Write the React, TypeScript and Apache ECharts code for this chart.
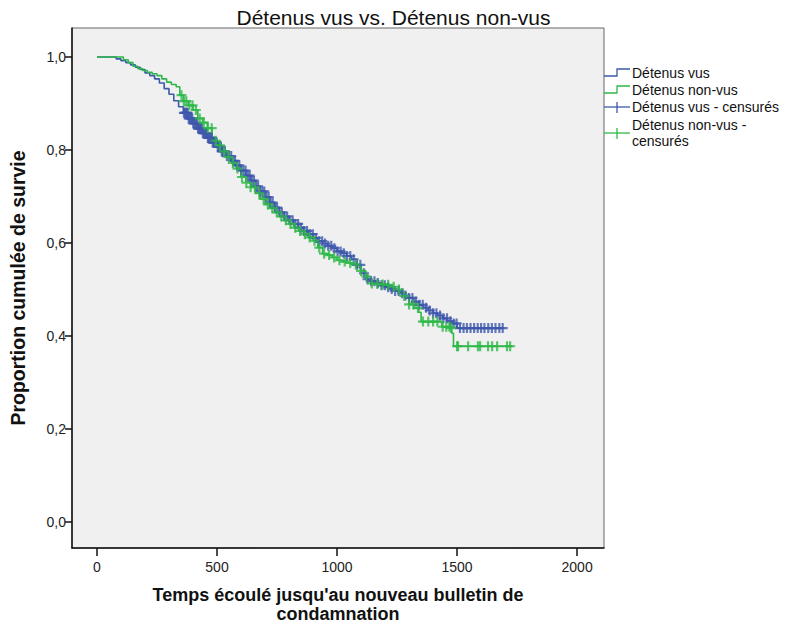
import React, { useEffect, useRef } from "react";
import * as echarts from "echarts";

const TITLE = "Détenus vus vs. Détenus non-vus";
const X_NAME = "Temps écoulé jusqu'au nouveau bulletin de\ncondamnation";
const Y_NAME = "Proportion cumulée de survie";
const X_TICKS = [0, 500, 1000, 1500, 2000];
const Y_TICKS = [0, 0.2, 0.4, 0.6, 0.8, 1.0];
const LEGEND_NAMES = ["Détenus vus", "Détenus non-vus", "Détenus vus - censurés", "Détenus non-vus -\ncensurés"];

// Kaplan-Meier curve "Détenus vus": [time, survival]
const vusCurve: [number, number][] = [
  [0, 1], [60, 1], [80, 0.996], [100, 0.992], [120, 0.988], [140, 0.983], [160, 0.978], [180, 0.973],
  [200, 0.966], [220, 0.96], [240, 0.953], [260, 0.944], [280, 0.932], [300, 0.92], [320, 0.906],
  [340, 0.893], [360, 0.88], [380, 0.868], [400, 0.857], [420, 0.846], [440, 0.836], [460, 0.826],
  [480, 0.816], [500, 0.807], [520, 0.797], [540, 0.787], [560, 0.777], [580, 0.767], [600, 0.756],
  [620, 0.745], [640, 0.734], [660, 0.722], [680, 0.711], [700, 0.699], [720, 0.687], [740, 0.676],
  [760, 0.666], [780, 0.657], [800, 0.649], [820, 0.641], [840, 0.633], [860, 0.626], [880, 0.619],
  [900, 0.611], [920, 0.604], [940, 0.599], [960, 0.594], [980, 0.589], [1000, 0.582], [1020, 0.578],
  [1040, 0.572], [1060, 0.565], [1080, 0.553], [1100, 0.535], [1120, 0.522], [1140, 0.518],
  [1160, 0.514], [1180, 0.509], [1200, 0.505], [1220, 0.501], [1240, 0.497], [1260, 0.492],
  [1280, 0.487], [1300, 0.482], [1320, 0.474], [1340, 0.467], [1360, 0.461], [1380, 0.455],
  [1400, 0.449], [1420, 0.444], [1440, 0.438], [1460, 0.432], [1480, 0.427], [1500, 0.417], [1692, 0.417],
];

// Kaplan-Meier curve "Détenus non-vus": [time, survival]
const nonVusCurve: [number, number][] = [
  [0, 1], [100, 1], [110, 0.994], [130, 0.988], [150, 0.98], [170, 0.975], [190, 0.971], [210, 0.967],
  [230, 0.964], [250, 0.96], [270, 0.953], [290, 0.946], [310, 0.941], [330, 0.936], [345, 0.918],
  [360, 0.905], [380, 0.896], [400, 0.886], [420, 0.868], [440, 0.859], [460, 0.847], [480, 0.82],
  [500, 0.81], [520, 0.797], [540, 0.785], [560, 0.772], [580, 0.76], [600, 0.742], [620, 0.73],
  [640, 0.72], [660, 0.707], [680, 0.695], [700, 0.683], [720, 0.675], [740, 0.666], [760, 0.657],
  [780, 0.649], [800, 0.641], [820, 0.633], [840, 0.626], [860, 0.619], [880, 0.612], [900, 0.605],
  [920, 0.59], [940, 0.577], [960, 0.574], [980, 0.569], [1000, 0.563], [1020, 0.56], [1040, 0.557],
  [1060, 0.554], [1080, 0.548], [1100, 0.54], [1120, 0.528], [1140, 0.513], [1160, 0.512],
  [1180, 0.511], [1200, 0.51], [1220, 0.506], [1240, 0.5], [1260, 0.493], [1280, 0.486], [1300, 0.468],
  [1320, 0.46], [1340, 0.451], [1350, 0.431], [1430, 0.431], [1436, 0.42], [1470, 0.417], [1478, 0.406],
  [1485, 0.378], [1733, 0.378],
];

// Censoring times
const vusCensorTimes = [
  362, 367, 371, 375, 378, 382, 386, 390, 393, 397, 401, 405, 410, 414, 418, 421, 425, 429, 433, 437,
  441, 446, 450, 454, 458, 462, 466, 470, 473, 478, 482, 486, 490, 495, 499, 503, 507, 512, 516, 520,
  524, 533, 541, 550, 559, 567, 575, 584, 593, 601, 610, 619, 628, 636, 645, 654, 662, 671, 680, 689,
  697, 706, 715, 723, 732, 741, 750, 760, 770, 781, 792, 803, 815, 826, 838, 850, 862, 875, 887, 899,
  912, 925, 938, 950, 963, 976, 989, 1002, 1015, 1028, 1041, 1055, 1069, 1083, 1097, 1112, 1127, 1142,
  1156, 1170, 1185, 1199, 1213, 1228, 1242, 1257, 1271, 1285, 1300, 1314, 1328, 1343, 1357, 1371,
  1386, 1400, 1414, 1429, 1443, 1458, 1472, 1486, 1498, 1512, 1527, 1541, 1556, 1571, 1586, 1600,
  1614, 1630, 1645, 1660, 1676, 1690,
];
const nonVusCensorTimes = [
  352, 362, 372, 385, 398, 412, 428, 445, 462, 478, 495, 512, 530, 548, 566, 585, 604, 622, 640, 658,
  676, 694, 712, 730, 749, 768, 787, 806, 826, 846, 866, 886, 906, 926, 946, 967, 988, 1010, 1032,
  1055, 1078, 1100, 1122, 1145, 1168, 1190, 1213, 1236, 1258, 1280, 1300, 1318, 1337, 1358, 1380,
  1400, 1418, 1440, 1455, 1468, 1475, 1500, 1504, 1546, 1587, 1596, 1629, 1646, 1667, 1708, 1721,
];

const BLUE = "#3e58ac";
const GREEN = "#2eb848";
const FONT = "'Liberation Sans', Arial, sans-serif";
const PLUS = "path://M4.7,0H7.3V4.7H12V7.3H7.3V12H4.7V7.3H0V4.7H4.7Z";

function survAt(curve: [number, number][], t: number): number {
  let s = curve[0][1];
  for (const [ct, cs] of curve) {
    if (ct <= t) s = cs;
    else break;
  }
  return s;
}

export default function App() {
  const ref = useRef<HTMLDivElement>(null);
  useEffect(() => {
    document.body.style.margin = "0";
    const chart = echarts.init(ref.current!, null, { renderer: "svg" });
    const fmtY = (v: number) => v.toFixed(1).replace(".", ",");
    const fmtX = (v: number) => String(Math.round(v));
    const lx = 604;
    const lf = `14px ${FONT}`;
    const legendGraphic: any[] = [
      { type: "polyline", shape: { points: [[lx, 76], [lx + 13, 76], [lx + 13, 69], [lx + 26, 69]] }, style: { stroke: BLUE, lineWidth: 1.3, fill: null } },
      { type: "text", x: lx + 28, y: 73, style: { text: LEGEND_NAMES[0], font: lf, fill: "#111", verticalAlign: "middle" } },
      { type: "polyline", shape: { points: [[lx, 93], [lx + 13, 93], [lx + 13, 86], [lx + 26, 86]] }, style: { stroke: GREEN, lineWidth: 1.3, fill: null } },
      { type: "text", x: lx + 28, y: 90, style: { text: LEGEND_NAMES[1], font: lf, fill: "#111", verticalAlign: "middle" } },
      { type: "line", shape: { x1: lx, y1: 107, x2: lx + 26, y2: 107 }, style: { stroke: BLUE, lineWidth: 1.3 } },
      { type: "line", shape: { x1: lx + 13, y1: 102, x2: lx + 13, y2: 113 }, style: { stroke: BLUE, lineWidth: 1.3 } },
      { type: "text", x: lx + 28, y: 107, style: { text: LEGEND_NAMES[2], font: lf, fill: "#111", verticalAlign: "middle" } },
      { type: "line", shape: { x1: lx, y1: 133, x2: lx + 26, y2: 133 }, style: { stroke: GREEN, lineWidth: 1.3 } },
      { type: "line", shape: { x1: lx + 13, y1: 128, x2: lx + 13, y2: 139 }, style: { stroke: GREEN, lineWidth: 1.3 } },
      { type: "text", x: lx + 28, y: 133, style: { text: LEGEND_NAMES[3], font: lf, fill: "#111", verticalAlign: "middle", lineHeight: 16 } },
    ];
    chart.setOption({
      animation: false,
      backgroundColor: "#ffffff",
      title: {
        text: TITLE,
        left: "center",
        top: 2,
        textStyle: { fontFamily: FONT, fontSize: 21, fontWeight: "normal", color: "#111" },
      },
      grid: {
        left: 72, top: 28, width: 532, height: 520,
        outerBoundsMode: "none",
        show: true, backgroundColor: "#f0f0f0", borderColor: "#666", borderWidth: 1,
      },
      xAxis: {
        type: "value", min: -104, max: 2112,
        name: X_NAME, nameLocation: "middle", nameGap: 37,
        nameTextStyle: { fontFamily: FONT, fontSize: 18, fontWeight: "bold", color: "#111", lineHeight: 19 },
        axisLine: { show: true, onZero: false, lineStyle: { color: "#111", width: 1.5 } },
        axisTick: { show: true, inside: false, length: 8, customValues: X_TICKS, lineStyle: { color: "#111", width: 1.5 } },
        axisLabel: { customValues: X_TICKS, margin: 12, formatter: fmtX, fontFamily: FONT, fontSize: 14, color: "#222" },
        splitLine: { show: false },
      },
      yAxis: {
        type: "value", min: -0.0559, max: 1.0624,
        name: Y_NAME, nameLocation: "middle", nameGap: 44,
        nameTextStyle: { fontFamily: FONT, fontSize: 19.5, fontWeight: "bold", color: "#111" },
        axisLine: { show: true, onZero: false, lineStyle: { color: "#111", width: 1.5 } },
        axisTick: { show: true, inside: false, length: 7, customValues: Y_TICKS, lineStyle: { color: "#111", width: 1.5 } },
        axisLabel: { customValues: Y_TICKS, margin: 6, formatter: fmtY, fontFamily: FONT, fontSize: 14, color: "#222" },
        splitLine: { show: false },
      },
      series: [
        {
          name: "Détenus vus", type: "line", step: "end", data: vusCurve, showSymbol: false,
          lineStyle: { color: BLUE, width: 1.6 }, itemStyle: { color: BLUE }, z: 2,
        },
        {
          name: "Détenus non-vus", type: "line", step: "end", data: nonVusCurve, showSymbol: false,
          lineStyle: { color: GREEN, width: 1.6 }, itemStyle: { color: GREEN }, z: 3,
        },
        {
          name: "Détenus vus - censurés", type: "scatter", symbol: PLUS, symbolSize: 10,
          data: vusCensorTimes.map((t) => [t, survAt(vusCurve, t)]),
          itemStyle: { color: BLUE }, z: 4,
        },
        {
          name: "Détenus non-vus - censurés", type: "scatter", symbol: PLUS, symbolSize: 10,
          data: nonVusCensorTimes.map((t) => [t, survAt(nonVusCurve, t)]),
          itemStyle: { color: GREEN }, z: 5,
        },
      ],
      graphic: legendGraphic,
    });
    return () => chart.dispose();
  }, []);
  return <div ref={ref} style={{ width: 787, height: 625 }} />;
}
